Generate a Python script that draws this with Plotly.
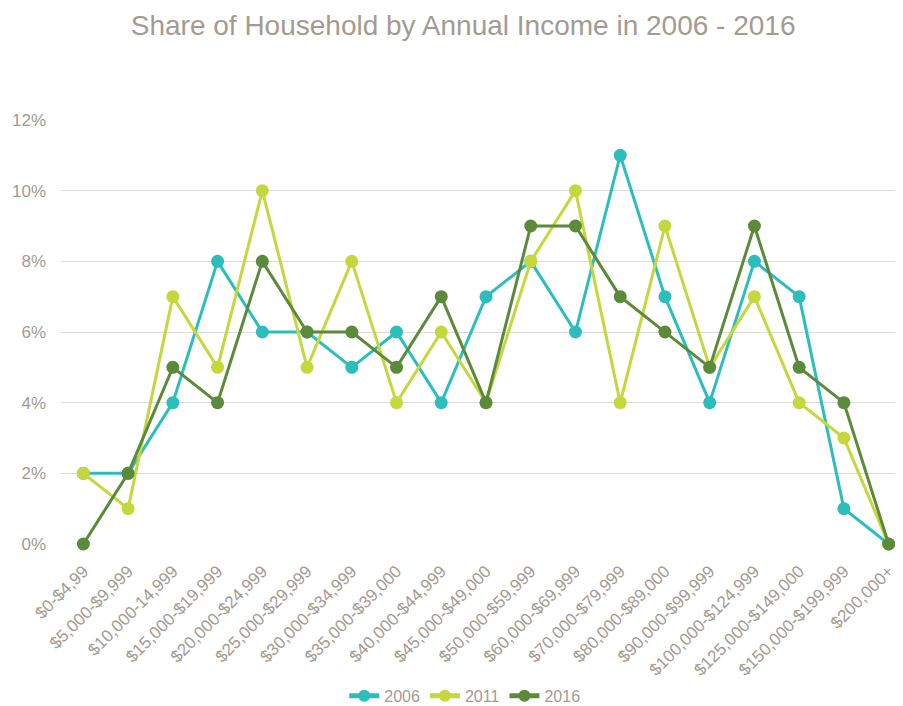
import plotly.graph_objects as go

categories = [
    "$0-$4,99", "$5,000-$9,999", "$10,000-14,999", "$15,000-$19,999",
    "$20,000-$24,999", "$25,000-$29,999", "$30,000-$34,999", "$35,000-$39,000",
    "$40,000-$44,999", "$45,000-$49,000", "$50,000-$59,999", "$60,000-$69,999",
    "$70,000-$79,999", "$80,000-$89,000", "$90,000-$99,999", "$100,000-$124,999",
    "$125,000-$149,000", "$150,000-$199,999", "$200,000+",
]
share_2006 = [2, 2, 4, 8, 6, 6, 5, 6, 4, 7, 8, 6, 11, 7, 4, 8, 7, 1, 0]
share_2011 = [2, 1, 7, 5, 10, 5, 8, 4, 6, 4, 8, 10, 4, 9, 5, 7, 4, 3, 0]
share_2016 = [0, 2, 5, 4, 8, 6, 6, 5, 7, 4, 9, 9, 7, 6, 5, 9, 5, 4, 0]

series = [
    ("2006", share_2006, "#2cbdbd"),
    ("2011", share_2011, "#c4d83e"),
    ("2016", share_2016, "#5b8a3a"),
]

text_col = "#a39b91"

fig = go.Figure()
for name, vals, col in series:
    fig.add_trace(go.Scatter(
        x=list(range(len(categories))),
        y=[v / 100 for v in vals],
        mode="lines+markers",
        name=name,
        line=dict(color=col, width=3),
        marker=dict(color=col, size=13),
        cliponaxis=False,
    ))

# the page body has an 8px margin, so the margins below are shifted by 8px
# (figure is a bit taller than the window so the legend doesn't push the margin)
fig.update_layout(
    width=903, height=714,
    margin=dict(l=53, r=0, t=112, b=178),
    paper_bgcolor="white", plot_bgcolor="white",
    font=dict(family="Liberation Sans, Arial, sans-serif", color=text_col),
    title=dict(text="Share of Household by Annual Income in 2006 - 2016",
               x=0.504, xanchor="center", y=0.976, yanchor="middle",
               font=dict(size=28, color=text_col)),
    xaxis=dict(
        tickmode="array", tickvals=list(range(len(categories))), ticktext=categories,
        range=[-0.5, 18.5], tickangle=-45, showgrid=False, zeroline=False,
        tickfont=dict(size=17, color=text_col), showline=False, ticks="",
        automargin=False, ticklabelstandoff=13,
    ),
    yaxis=dict(
        range=[0, 0.12], dtick=0.02, tickformat=".0%",
        gridcolor="#dcdcdc", gridwidth=1, zeroline=False,
        tickfont=dict(size=17, color=text_col), ticks="", ticklen=0,
        automargin=False, ticklabelstandoff=14,
    ),
    legend=dict(orientation="h", x=0.475, xanchor="center", y=-0.318, yanchor="top",
                font=dict(size=16, color=text_col), itemwidth=30,
                itemsizing="constant"),
    showlegend=True,
)

fig.write_html("out.html")
